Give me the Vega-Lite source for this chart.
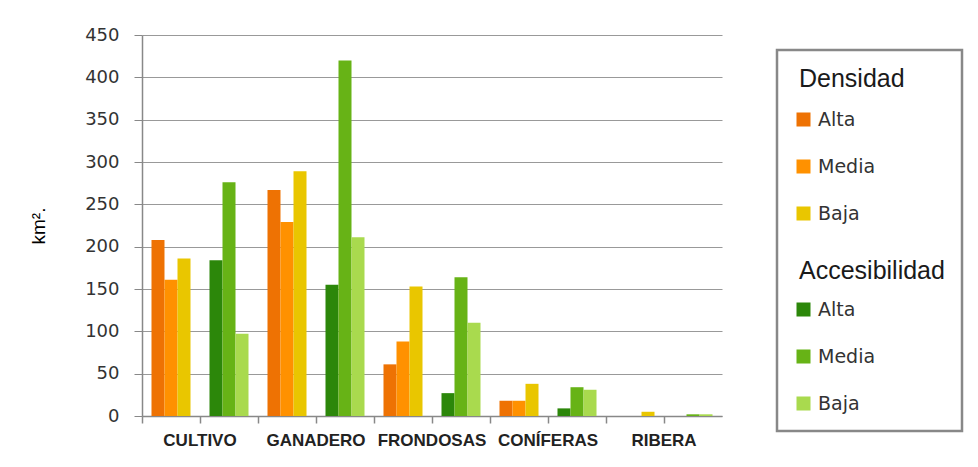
{
  "$schema": "https://vega.github.io/schema/vega-lite/v6.json",
  "width": 580,
  "height": 381,
  "autosize": {"type": "none"},
  "padding": {"left": 142, "top": 35, "right": 256, "bottom": 51},
  "background": "white",
  "config": {
    "view": {"stroke": null},
    "font": "DejaVu Sans"
  },
  "data": {
    "values": [
      {"cubierta": "CULTIVO", "grupo": "CULTIVO · Densidad", "nivel": "Alta", "serie": "Densidad Alta", "km2": 208},
      {"cubierta": "CULTIVO", "grupo": "CULTIVO · Densidad", "nivel": "Media", "serie": "Densidad Media", "km2": 161},
      {"cubierta": "CULTIVO", "grupo": "CULTIVO · Densidad", "nivel": "Baja", "serie": "Densidad Baja", "km2": 186},
      {"cubierta": "CULTIVO", "grupo": "CULTIVO · Accesibilidad", "nivel": "Alta", "serie": "Accesibilidad Alta", "km2": 184},
      {"cubierta": "CULTIVO", "grupo": "CULTIVO · Accesibilidad", "nivel": "Media", "serie": "Accesibilidad Media", "km2": 276},
      {"cubierta": "CULTIVO", "grupo": "CULTIVO · Accesibilidad", "nivel": "Baja", "serie": "Accesibilidad Baja", "km2": 97},
      {"cubierta": "GANADERO", "grupo": "GANADERO · Densidad", "nivel": "Alta", "serie": "Densidad Alta", "km2": 267},
      {"cubierta": "GANADERO", "grupo": "GANADERO · Densidad", "nivel": "Media", "serie": "Densidad Media", "km2": 229},
      {"cubierta": "GANADERO", "grupo": "GANADERO · Densidad", "nivel": "Baja", "serie": "Densidad Baja", "km2": 289},
      {"cubierta": "GANADERO", "grupo": "GANADERO · Accesibilidad", "nivel": "Alta", "serie": "Accesibilidad Alta", "km2": 155},
      {"cubierta": "GANADERO", "grupo": "GANADERO · Accesibilidad", "nivel": "Media", "serie": "Accesibilidad Media", "km2": 420},
      {"cubierta": "GANADERO", "grupo": "GANADERO · Accesibilidad", "nivel": "Baja", "serie": "Accesibilidad Baja", "km2": 211},
      {"cubierta": "FRONDOSAS", "grupo": "FRONDOSAS · Densidad", "nivel": "Alta", "serie": "Densidad Alta", "km2": 61},
      {"cubierta": "FRONDOSAS", "grupo": "FRONDOSAS · Densidad", "nivel": "Media", "serie": "Densidad Media", "km2": 88},
      {"cubierta": "FRONDOSAS", "grupo": "FRONDOSAS · Densidad", "nivel": "Baja", "serie": "Densidad Baja", "km2": 153},
      {"cubierta": "FRONDOSAS", "grupo": "FRONDOSAS · Accesibilidad", "nivel": "Alta", "serie": "Accesibilidad Alta", "km2": 27},
      {"cubierta": "FRONDOSAS", "grupo": "FRONDOSAS · Accesibilidad", "nivel": "Media", "serie": "Accesibilidad Media", "km2": 164},
      {"cubierta": "FRONDOSAS", "grupo": "FRONDOSAS · Accesibilidad", "nivel": "Baja", "serie": "Accesibilidad Baja", "km2": 110},
      {"cubierta": "CONÍFERAS", "grupo": "CONÍFERAS · Densidad", "nivel": "Alta", "serie": "Densidad Alta", "km2": 18},
      {"cubierta": "CONÍFERAS", "grupo": "CONÍFERAS · Densidad", "nivel": "Media", "serie": "Densidad Media", "km2": 18},
      {"cubierta": "CONÍFERAS", "grupo": "CONÍFERAS · Densidad", "nivel": "Baja", "serie": "Densidad Baja", "km2": 38},
      {"cubierta": "CONÍFERAS", "grupo": "CONÍFERAS · Accesibilidad", "nivel": "Alta", "serie": "Accesibilidad Alta", "km2": 9},
      {"cubierta": "CONÍFERAS", "grupo": "CONÍFERAS · Accesibilidad", "nivel": "Media", "serie": "Accesibilidad Media", "km2": 34},
      {"cubierta": "CONÍFERAS", "grupo": "CONÍFERAS · Accesibilidad", "nivel": "Baja", "serie": "Accesibilidad Baja", "km2": 31},
      {"cubierta": "RIBERA", "grupo": "RIBERA · Densidad", "nivel": "Alta", "serie": "Densidad Alta", "km2": 0},
      {"cubierta": "RIBERA", "grupo": "RIBERA · Densidad", "nivel": "Media", "serie": "Densidad Media", "km2": 0},
      {"cubierta": "RIBERA", "grupo": "RIBERA · Densidad", "nivel": "Baja", "serie": "Densidad Baja", "km2": 5},
      {"cubierta": "RIBERA", "grupo": "RIBERA · Accesibilidad", "nivel": "Alta", "serie": "Accesibilidad Alta", "km2": 0},
      {"cubierta": "RIBERA", "grupo": "RIBERA · Accesibilidad", "nivel": "Media", "serie": "Accesibilidad Media", "km2": 2},
      {"cubierta": "RIBERA", "grupo": "RIBERA · Accesibilidad", "nivel": "Baja", "serie": "Accesibilidad Baja", "km2": 2}
    ]
  },
  "mark": {"type": "bar"},
  "encoding": {
    "x": {
      "field": "grupo",
      "type": "nominal",
      "sort": null,
      "scale": {"paddingInner": 0, "paddingOuter": 0},
      "axis": {
        "title": null,
        "bandPosition": 0,
        "labelAngle": 0,
        "labelExpr": "indexof(datum.value, 'Densidad') >= 0 ? split(datum.value, ' · ')[0] : ''",
        "labelOffset": 29,
        "labelFont": "Liberation Sans",
        "labelFontWeight": "bold",
        "labelFontSize": 17,
        "labelColor": "#222222",
        "labelPadding": 9,
        "labelBaseline": "top",
        "labelOverlap": false,
        "domainColor": "#888888",
        "domainWidth": 1.5,
        "tickColor": "#888888",
        "tickWidth": 1.5,
        "tickSize": 7,
        "grid": false,
        "encode": {
          "ticks": {"update": {"y2": {"signal": "indexof(datum.value, 'Densidad') >= 0 ? 18 : 7"}}}
        }
      }
    },
    "xOffset": {
      "field": "nivel",
      "type": "nominal",
      "sort": ["Alta", "Media", "Baja"],
      "scale": {"domain": ["Alta", "Media", "Baja"], "paddingInner": 0, "paddingOuter": 0.73}
    },
    "y": {
      "field": "km2",
      "type": "quantitative",
      "scale": {"domain": [0, 450], "nice": false},
      "axis": {
        "title": "km².",
        "titleFont": "Liberation Sans",
        "titleFontSize": 19,
        "titleFontWeight": "normal",
        "titleColor": "#000000",
        "titlePadding": 36,
        "values": [0, 50, 100, 150, 200, 250, 300, 350, 400, 450],
        "labelFont": "DejaVu Sans",
        "labelFontSize": 18,
        "labelColor": "#333333",
        "labelPadding": 15,
        "tickSize": 8,
        "tickColor": "#888888",
        "domainColor": "#888888",
        "domainWidth": 1.5,
        "gridColor": "#999999",
        "gridWidth": 1.2
      }
    },
    "color": {
      "field": "serie",
      "type": "nominal",
      "scale": {
        "domain": ["Densidad Alta", "Densidad Media", "Densidad Baja", "Accesibilidad", "Accesibilidad Alta", "Accesibilidad Media", "Accesibilidad Baja"],
        "range": ["#EE7203", "#FF9100", "#E9C600", "#ffffff", "#2C870A", "#67B316", "#A9DA4E"]
      },
      "legend": {
        "title": "Densidad",
        "orient": "none",
        "legendX": 635,
        "legendY": 15,
        "padding": 17,
        "titleFont": "Liberation Sans",
        "titleFontSize": 25,
        "titleFontWeight": "normal",
        "titleColor": "#1a1a1a",
        "titlePadding": 18,
        "labelFont": "DejaVu Sans",
        "labelFontSize": 19,
        "labelColor": "#333333",
        "labelOffset": 5,
        "symbolType": "square",
        "symbolSize": 196,
        "symbolStrokeWidth": 0,
        "rowPadding": 0,
        "labelExpr": "datum.value === 'Accesibilidad' ? 'Accesibilidad' : split(datum.value, ' ')[1]",
        "encode": {
          "legend": {"update": {"stroke": {"value": "#888888"}, "strokeWidth": {"value": 2.5}}},
          "title": {"update": {"dx": {"value": 5}}},
          "symbols": {"update": {
            "opacity": {"signal": "datum.value === 'Accesibilidad' ? 0 : 1"},
            "shape": {"signal": "datum.value === 'Accesibilidad' ? 'M-0.1,-3.464H0.1V3.464H-0.1Z' : (datum.value === 'Accesibilidad Baja' ? 'M-1,-1H1V1H-1Z M0,-3.321V1' : 'M-1,-1H1V1H-1Z M0,-3.321V3.321')"}
          }},
          "labels": {"update": {
            "fontSize": {"signal": "datum.value === 'Accesibilidad' ? 25 : 19"},
            "font": {"signal": "datum.value === 'Accesibilidad' ? 'Liberation Sans' : 'DejaVu Sans'"},
            "fill": {"signal": "datum.value === 'Accesibilidad' ? '#1a1a1a' : '#333333'"},
            "dx": {"signal": "datum.value === 'Accesibilidad' ? -19 : 0"},
            "dy": {"signal": "datum.value === 'Accesibilidad' ? 9.5 : 0"}
          }}
        }
      }
    }
  }
}
